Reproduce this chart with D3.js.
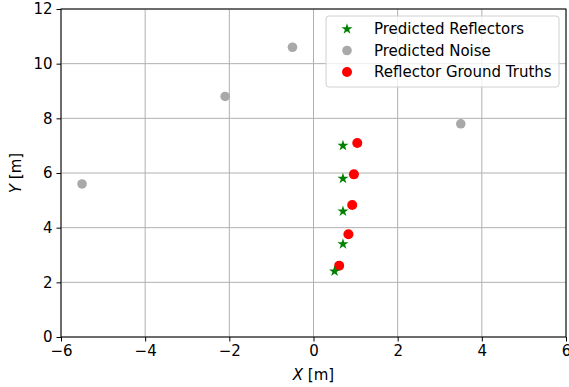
<!DOCTYPE html>
<html>
<head>
  <meta charset="utf-8">
  <title>Reflector predictions</title>
  <script src="https://d3js.org/d3.v7.min.js"></script>
  <style>
    html, body { margin: 0; padding: 0; background: #fff; }
    svg { display: block; }
    text { font-family: "DejaVu Sans", sans-serif; fill: #000; }
    .grid line { stroke: #b0b0b0; stroke-width: 1; }
  </style>
</head>
<body>
  <svg width="569" height="387"></svg>
  <script>
    // chart data
    const reflX = [0.7, 0.7, 0.7, 0.7, 0.5];
    const reflY = [7.0, 5.8, 4.6, 3.4, 2.4];
    const noiseX = [-5.5, -2.1, -0.5, 3.5];
    const noiseY = [5.6, 8.8, 10.6, 7.8];
    const truthX = [1.04, 0.96, 0.92, 0.83, 0.61];
    const truthY = [7.1, 5.95, 4.83, 3.76, 2.61];
    const xTicks = [-6, -4, -2, 0, 2, 4, 6];
    const yTicks = [0, 2, 4, 6, 8, 10, 12];
    const legendLabels = ["Predicted Reflectors", "Predicted Noise", "Reflector Ground Truths"];

    const svg = d3.select("svg");
    const plotL = 61, plotR = 566, plotT = 9, plotB = 337;
    const fs = "15px";

    const x = d3.scaleLinear().domain([-6, 6]).range([plotL, plotR]);
    const y = d3.scaleLinear().domain([0, 12]).range([plotB, plotT]);

    // grid
    const grid = svg.append("g").attr("class", "grid");
    grid.selectAll(".gx").data(xTicks).enter().append("line")
      .attr("x1", d => x(d)).attr("x2", d => x(d))
      .attr("y1", plotT).attr("y2", plotB);
    grid.selectAll(".gy").data(yTicks).enter().append("line")
      .attr("x1", plotL).attr("x2", plotR)
      .attr("y1", d => y(d)).attr("y2", d => y(d));

    // axes
    const xAxis = svg.append("g")
      .attr("transform", `translate(0,${plotB})`)
      .call(d3.axisBottom(x).tickValues(xTicks).tickSize(4.5).tickPadding(4)
        .tickFormat(d => d < 0 ? "\u2212" + Math.abs(d) : d));
    const yAxis = svg.append("g")
      .attr("transform", `translate(${plotL},0)`)
      .call(d3.axisLeft(y).tickValues(yTicks).tickSize(4.5).tickPadding(4));
    [xAxis, yAxis].forEach(a => {
      a.select(".domain").remove();
      a.selectAll("text").style("font-size", fs).style("font-family", "DejaVu Sans");
      a.selectAll("line").attr("stroke", "#000").attr("stroke-width", 1);
    });

    // frame
    svg.append("rect")
      .attr("x", plotL).attr("y", plotT)
      .attr("width", plotR - plotL).attr("height", plotB - plotT)
      .attr("fill", "none").attr("stroke", "#000").attr("stroke-width", 1);

    const star = d3.symbol().type(d3.symbolStar).size(38);

    // points
    svg.append("g").selectAll("circle").data(truthX).enter().append("circle")
      .attr("cx", d => x(d)).attr("cy", (d, i) => y(truthY[i]))
      .attr("r", 5).attr("fill", "#ff0000");
    svg.append("g").selectAll("circle").data(noiseX).enter().append("circle")
      .attr("cx", d => x(d)).attr("cy", (d, i) => y(noiseY[i]))
      .attr("r", 4.8).attr("fill", "#a9a9a9");
    svg.append("g").selectAll("path").data(reflX).enter().append("path")
      .attr("d", star)
      .attr("transform", (d, i) => `translate(${x(d)},${y(reflY[i])})`)
      .attr("fill", "#008000");

    // axis labels
    const xl = svg.append("text").attr("x", (plotL + plotR) / 2).attr("y", 380)
      .attr("text-anchor", "middle").style("font-size", fs);
    xl.append("tspan").style("font-style", "italic").text("X");
    xl.append("tspan").text(" [m]");
    const yl = svg.append("text")
      .attr("transform", `translate(21,${(plotT + plotB) / 2}) rotate(-90)`)
      .attr("text-anchor", "middle").style("font-size", fs);
    yl.append("tspan").style("font-style", "italic").text("Y");
    yl.append("tspan").text(" [m]");

    // legend
    const lg = svg.append("g").attr("transform", "translate(326,16)");
    lg.append("rect").attr("width", 233).attr("height", 71).attr("rx", 3)
      .attr("fill", "#fff").attr("fill-opacity", 0.8)
      .attr("stroke", "#d0d0d0").attr("stroke-width", 1);
    legendLabels.forEach((lab, i) => {
      const cy = 13 + i * 21.5;
      if (i === 0) {
        lg.append("path").attr("d", star).attr("transform", `translate(21,${cy})`).attr("fill", "#008000");
      } else {
        lg.append("circle").attr("cx", 21).attr("cy", cy).attr("r", i === 1 ? 4.8 : 5)
          .attr("fill", i === 1 ? "#a9a9a9" : "#ff0000");
      }
      lg.append("text").attr("x", 48).attr("y", cy).attr("dy", "0.35em")
        .style("font-size", fs).text(lab);
    });
  </script>
</body>
</html>
